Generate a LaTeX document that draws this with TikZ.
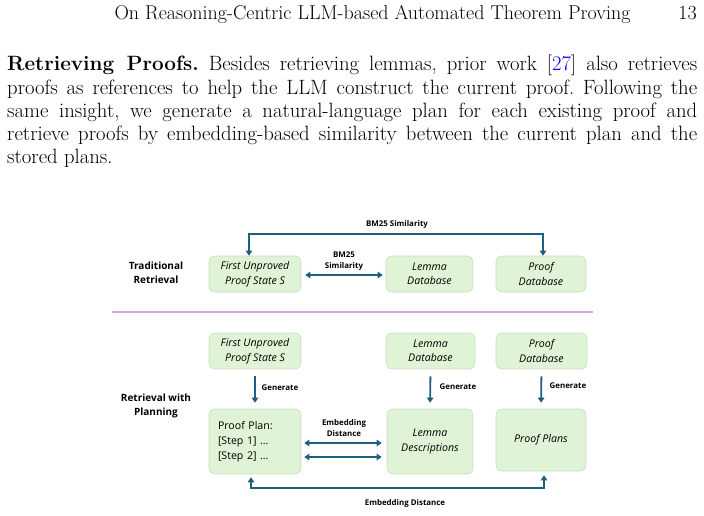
\documentclass[tikz,border=0pt]{standalone}
\usepackage{fontspec}
\newfontfamily\diagfont{Open Sans}
\usetikzlibrary{arrows.meta}
\definecolor{boxfill}{RGB}{223,243,214}
\definecolor{boxline}{RGB}{200,223,191}
\definecolor{arrowblue}{RGB}{30,95,126}
\definecolor{sepline}{RGB}{220,160,220}
\definecolor{citeblue}{RGB}{0,0,255}

\begin{document}
\begin{tikzpicture}
[x=1pt,y=-1pt,
  boxDecorate/.style={draw=boxline,fill=boxfill,rounded corners=6pt,line width=0.6pt,
    align=center,inner sep=2pt,font=\diagfont\itshape\fontsize{10.6}{14.5}\selectfont},
  labelDecorate/.style={align=center,inner sep=0pt,font=\diagfont\bfseries\fontsize{7.9}{10.5}\selectfont},
  rowDecorate/.style={align=center,inner sep=0pt,font=\diagfont\bfseries\fontsize{10}{14}\selectfont},
  lineDecorate/.style={draw=arrowblue,line width=1.8pt,-{Triangle[width=6.5pt,length=5pt]}},
  bothDecorate/.style={draw=arrowblue,line width=1.8pt,{Triangle[width=6.5pt,length=5pt]}-{Triangle[width=6.5pt,length=5pt]}}]
\useasboundingbox (0,0) rectangle (704,515);
%% page text
\node[anchor=base,inner sep=0pt,font=\fontsize{20}{24}\selectfont] (runhead) at (372.5,19)
  {On Reasoning-Centric LLM-based Automated Theorem Proving};
\node[anchor=base east,inner sep=0pt,font=\fontsize{20}{24}\selectfont] (pagenum) at (697,19) {13};
\node[anchor=north west,inner sep=0pt,text width=690pt,align=justify,
  font=\fontsize{20.7}{23.3}\selectfont\frenchspacing] (para) at (7,55)
  {\textbf{Retrieving Proofs.} Besides retrieving lemmas, prior work [{\color{citeblue}27}] also retrieves\linebreak
  proofs as references to help the LLM construct the current proof. Following the\linebreak
  same insight, we generate a natural-language plan for each existing proof and\linebreak
  retrieve proofs by embedding-based similarity between the current plan and the\linebreak
  stored plans.};
%% traditional retrieval
\node[rowDecorate] (tradrow) at (156,273) {Traditional\\Retrieval};
\node[boxDecorate,minimum width=92pt,minimum height=36pt] (firstTop) at (255,274) {First Unproved\\Proof State S};
\node[boxDecorate,minimum width=87pt,minimum height=36pt] (lemmaTop) at (429.5,274) {Lemma\\Database};
\node[boxDecorate,minimum width=90pt,minimum height=36pt] (proofTop) at (541,274) {Proof\\Database};
\node[labelDecorate] (bmTop) at (397,224) {BM25 Similarity};
\node[labelDecorate] (bmMid) at (344,261) {BM25\\Similarity};
\draw[bothDecorate] ([xshift=-6pt]firstTop.north) -- ++(0,-22) -| ([xshift=2pt]proofTop.north);
\draw[bothDecorate,shorten <=4pt,shorten >=3pt] ([yshift=-1pt]firstTop.east) -- ([yshift=-1pt]lemmaTop.west);
%% separator
\draw[draw=sepline,line width=2.6pt] (112,312) coordinate (sepL) -- (593,312) coordinate (sepR);
%% retrieval with planning
\node[rowDecorate] (planrow) at (156,406) {Retrieval with\\Planning};
\node[boxDecorate,minimum width=92pt,minimum height=36pt] (firstBot) at (255,351) {First Unproved\\Proof State S};
\node[boxDecorate,minimum width=89pt,minimum height=36pt] (lemmaBot) at (430.5,351) {Lemma\\Database};
\node[boxDecorate,minimum width=91pt,minimum height=36pt] (proofBot) at (541.5,351) {Proof\\Database};
\node[boxDecorate,font=\diagfont\fontsize{10.6}{15}\selectfont,align=left,text width=74pt,
  inner xsep=9pt,minimum height=65pt] (plan) at (255,441.5) {Proof Plan:\\{[Step 1] ...}\\{[Step 2] ...}};
\node[boxDecorate,minimum width=86pt,minimum height=65pt] (lemmaDesc) at (430,441.5) {Lemma\\Descriptions};
\node[boxDecorate,minimum width=90pt,minimum height=62pt] (plans) at (541,440) {Proof Plans};
\foreach \src/\dst/\lx/\ly in {firstBot/plan/280/388, lemmaBot/lemmaDesc/458/387, proofBot/plans/568/386}
{
  \draw[lineDecorate,shorten <=7pt,shorten >=6pt] (\src.south) -- (\dst.north);
  \node[labelDecorate] (gen\src) at (\lx,\ly) {Generate};
}
\node[labelDecorate] (embMid) at (344,428) {Embedding\\Distance};
\draw[bothDecorate,shorten <=3pt,shorten >=5pt] ([yshift=-1.5pt]plan.east) -- ([yshift=-1.5pt]plan.east -| lemmaDesc.west);
\draw[bothDecorate,shorten <=3pt,shorten >=5pt] ([yshift=-15.5pt]plan.east) -- ([yshift=-15.5pt]plan.east -| lemmaDesc.west);
\draw[bothDecorate] ([xshift=-4pt,yshift=-3pt]plan.south) -- ++(0,11) -| ([xshift=3pt,yshift=-4pt]plans.south);
\node[labelDecorate] (embBot) at (405,503) {Embedding Distance};
\end{tikzpicture}
\end{document}
